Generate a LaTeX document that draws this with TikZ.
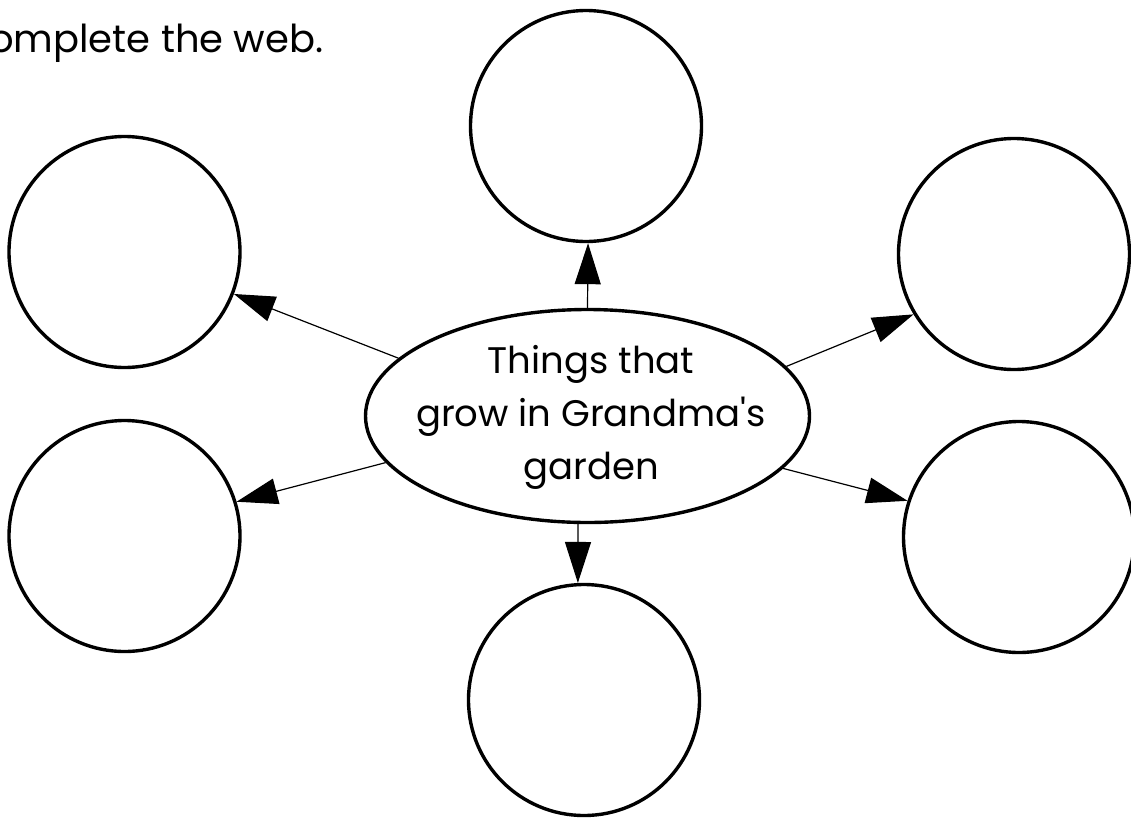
\documentclass[tikz,border=0pt]{standalone}
\usepackage{fontspec}
\setmainfont{Poppins}[Ligatures=TeXOff]
\usetikzlibrary{shapes.geometric,arrows.meta}
\begin{document}
\begin{tikzpicture}[x=1pt,y=-1pt,
  blank/.style={circle,draw,line width=3.4pt,minimum size=231pt,inner sep=0pt},
  hub/.style={ellipse,draw,line width=3.4pt,minimum width=444pt,minimum height=213pt,inner sep=0pt},
  hubtext/.style={align=center,inner sep=0pt,font=\fontsize{37}{53}\selectfont},
  link/.style={line width=1.2pt,-{Triangle[length=41pt,width=26pt]}},
  titletext/.style={anchor=base west,inner sep=0pt,font=\fontsize{38.5}{53}\selectfont}]
\useasboundingbox (0,0) rectangle (1131,817);
\node[titletext] (title) at (-11,52) {omplete the web.};
\node[hub] (c) at (587.5,416) {};
\node[hubtext] (ctext) at (591,417) {Things that\\grow in Grandma's\\garden};
\node[blank] (t) at (586,126) {};
\node[blank] (lu) at (124.5,252) {};
\node[blank] (ll) at (124.5,536) {};
\node[blank] (ru) at (1014,254) {};
\node[blank] (rl) at (1019,537) {};
\node[blank] (b) at (584,700) {};
\draw[link] (c.90) -- (t.271);
\draw[link] (c.163) -- (lu.339);
\draw[link] (c.193) -- (ll.17);
\draw[link] (c.14) -- (ru.211);
\draw[link] (c.345) -- (rl.162);
\draw[link] (c.265) -- (b.93);
\end{tikzpicture}
\end{document}
